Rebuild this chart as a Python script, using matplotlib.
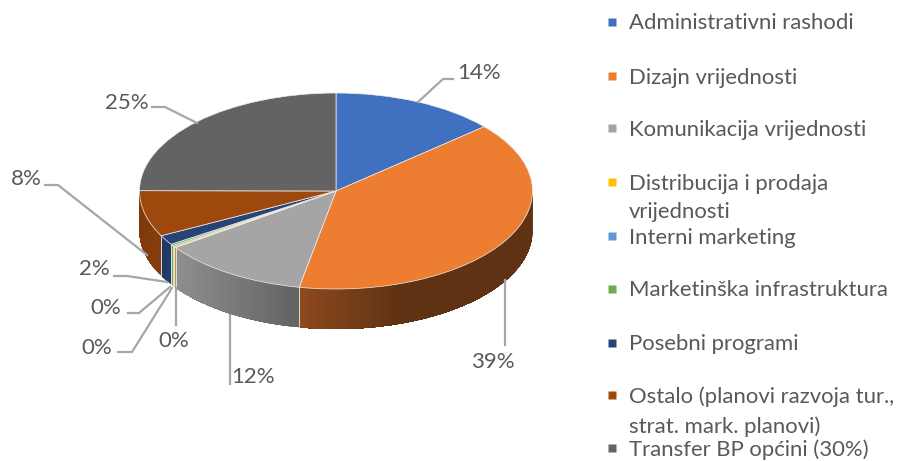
"""3D style pie chart of marketing costs."""
import numpy as np
import matplotlib
matplotlib.use("Agg")
import matplotlib.pyplot as plt
from matplotlib.colors import to_rgb

plt.rcParams['font.family'] = ['Lato', 'DejaVu Sans']

# shares, percent
categories = ['Administrativni rashodi', 'Dizajn vrijednosti', 'Komunikacija vrijednosti',
              'Distribucija i prodaja\nvrijednosti', 'Interni marketing',
              'Marketinška infrastruktura', 'Posebni programi',
              'Ostalo (planovi razvoja tur.,\nstrat. mark. planovi)', 'Transfer BP općini (30%)']
shares = [13.6, 39.4, 12.2, 0.2, 0.2, 0.25, 1.6, 7.6, 24.95]
colors = ['#4070c0', '#ed7d31', '#a5a5a5', '#ffc000', '#5b9bd5', '#70ad47', '#264478', '#9e480e', '#636363']

# pie position in pixels
CX, CY, RX, RY, DEPTH = 336, 191, 196.5, 98, 40

# legend rows: marker y, text y in pixels
legend_y = [22, 76, 128, 182, 236, 289, 343, 395, 448]
legend_text_y = [23.5, 77.5, 129.5, 198, 237.5, 290.5, 344.5, 412, 449.5]

# label centres and leader polylines in pixels, same order as shares
label_pos = [(479, 73), (493, 362), (253, 377), (174, 341), (97, 348), (106, 308), (94, 269), (26, 179), (127, 103)]
leaders = [
    [(418, 102), (443, 79), (453, 79)],
    [(505, 280), (505, 345)],
    [(230, 315), (230, 384)],
    [(176, 288), (176, 325)],
    [(172, 288), (132, 352), (118, 352)],
    [(170, 287), (139, 313), (128, 313)],
    [(167, 282), (127, 276), (114, 276)],
    [(147, 255), (58, 185), (45, 185)],
    [(197, 123), (165, 107), (152, 107)],
]


def px(x, y):
    """Pixel position to axes data, where the pie is a unit circle."""
    return (x - CX) / RX, (CY - y) / RY


def shade(x):
    """Darkening of the side wall along x."""
    return np.interp(x, [-1, -0.82, -0.19, 0.33, 1], [0.8, 0.87, 0.6, 0.4, 0.4])


fig = plt.figure(figsize=(8.98, 4.61), dpi=100)
ax = fig.add_axes([0, 0, 1, 1])
d = DEPTH / RY

# side wall, only the front half of the rim shows
edges = np.cumsum([0] + shares) / sum(shares) * 2 * np.pi
for i, col in enumerate(colors):
    a0, a1 = max(edges[i], np.pi / 2), min(edges[i + 1], 3 * np.pi / 2)
    if a1 <= a0:
        continue
    steps = np.linspace(a0, a1, max(2, int((a1 - a0) * 80)))
    for s0 in steps[:-1]:
        # each strip runs to the section end, the next one paints over it, so no seams
        arc = np.linspace(s0, a1, 40)
        xs, ys = np.sin(arc), np.cos(arc)
        c = np.array(to_rgb(col)) * shade(np.sin(s0))
        ax.fill(np.r_[xs, xs[::-1]], np.r_[ys, ys[::-1] - d], color=c, lw=0, zorder=1)
    # thin pale line between wall sections
    for a in (a0, a1):
        if np.pi / 2 < a < 3 * np.pi / 2:
            ax.plot([np.sin(a)] * 2, [np.cos(a), np.cos(a) - d], color='#e8e4df', lw=0.5, zorder=2)

# top face
ax.pie(shares, colors=colors, startangle=90, counterclock=False, radius=1,
       wedgeprops=dict(edgecolor='#f2eeea', linewidth=0.5, zorder=3))

ax.set_aspect('auto')
ax.set_xlim(-CX / RX, (898 - CX) / RX)
ax.set_ylim((CY - 461) / RY, CY / RY)
ax.axis('off')

# leaders and labels
for share, pos, line in zip(shares, label_pos, leaders):
    pts = np.array([px(*p) for p in line])
    ax.plot(pts[:, 0], pts[:, 1], color='#a6a6a6', lw=1.6, zorder=4, solid_joinstyle='miter')
    ax.text(*px(*pos), f'{share:.0f}%', ha='center', va='center', fontsize=16, color='#595959', zorder=5)

# legend
for name, col, my, ty in zip(categories, colors, legend_y, legend_text_y):
    mx0, my0 = px(612, my)
    ax.plot([mx0], [my0], marker='s', ms=5.5, color=col, mec='none', zorder=5, clip_on=False)
    ax.text(*px(629, ty), name, ha='left', va='center', fontsize=15.9, color='#595959',
            linespacing=1.55, zorder=5)

fig.savefig('out.png', dpi=100)
